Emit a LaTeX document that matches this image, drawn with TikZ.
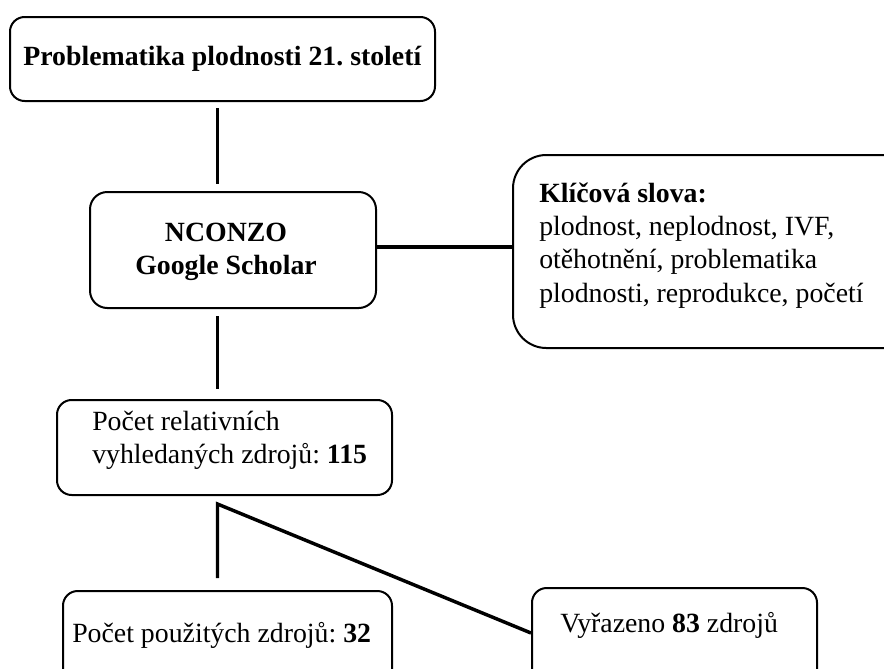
\documentclass[tikz,border=0pt]{standalone}
\usepackage{fontspec}
\setmainfont{Liberation Serif}
\usetikzlibrary{fit}
\frenchspacing
\begin{document}
\begin{tikzpicture}[x=0.75pt,y=-0.75pt,
  box/.style={draw, line width=1.5pt, rounded corners=#1, inner sep=0pt},
  box/.default=11pt,
  conn/.style={line width=2.6pt},
  txt/.style={inner sep=0pt, font=\fontsize{20.85pt}{25.1pt}\selectfont}]
\useasboundingbox (0,0) rectangle (884,668);
\clip (0,0) rectangle (884,668);

% boxes
\node[box=11pt, fit={(10,17) (435,101)}] (b1) {};
\node[box=13pt, fit={(90,192) (376,308)}] (b2) {};
\node[box=25pt, fit={(513,155) (920,348)}] (kw) {};
\node[box=11pt, fit={(57,400) (392,495)}] (b3) {};
\node[box=11pt, fit={(63,591) (392,720)}] (b4) {};
\node[box=11pt, fit={(532,588) (817,720)}] (b5) {};

% texts
\node[txt, anchor=base] (t1) at (222.5,65) {\textbf{Problematika plodnosti 21. století}};
\node[txt, anchor=base] (t2) at (226,241) {\begin{tabular}[t]{@{}c@{}}\textbf{NCONZO}\\ \textbf{Google Scholar}\end{tabular}};
\node[txt, anchor=base west] (tk) at (539,202) {\begin{tabular}[t]{@{}l@{}}\textbf{Klíčová slova:}\\ plodnost, neplodnost, IVF,\\ otěhotnění, problematika\\ plodnosti, reprodukce, početí\end{tabular}};
\node[txt, anchor=base west] (t3) at (92,430) {\begin{tabular}[t]{@{}l@{}}Počet relativních\\ vyhledaných zdrojů: \textbf{115}\end{tabular}};
\node[txt, anchor=base west] (t4) at (72,642) {Počet použitých zdrojů: \textbf{32}};
\node[txt, anchor=base west] (t5) at (560,632) {Vyřazeno \textbf{83} zdrojů};

% connectors
\coordinate (vx) at (217.5,0);
\coordinate (hy) at (0,247);
\coordinate (dy) at (0,633);
\draw[conn, shorten <=4.5pt, shorten >=5.25pt] (b1.south -| vx) -- (b2.north -| vx);
\draw[conn, shorten <=5.25pt, shorten >=7.5pt] (b2.south -| vx) -- (b3.north -| vx);
\draw[conn] (b2.east |- hy) -- (kw.west |- hy);
\path (b3.south -| vx) ++(0,8) coordinate (j);
\draw[conn, shorten <=9pt] (b4.north -| j) -- (j) -- (b5.west |- dy);
\end{tikzpicture}
\end{document}
